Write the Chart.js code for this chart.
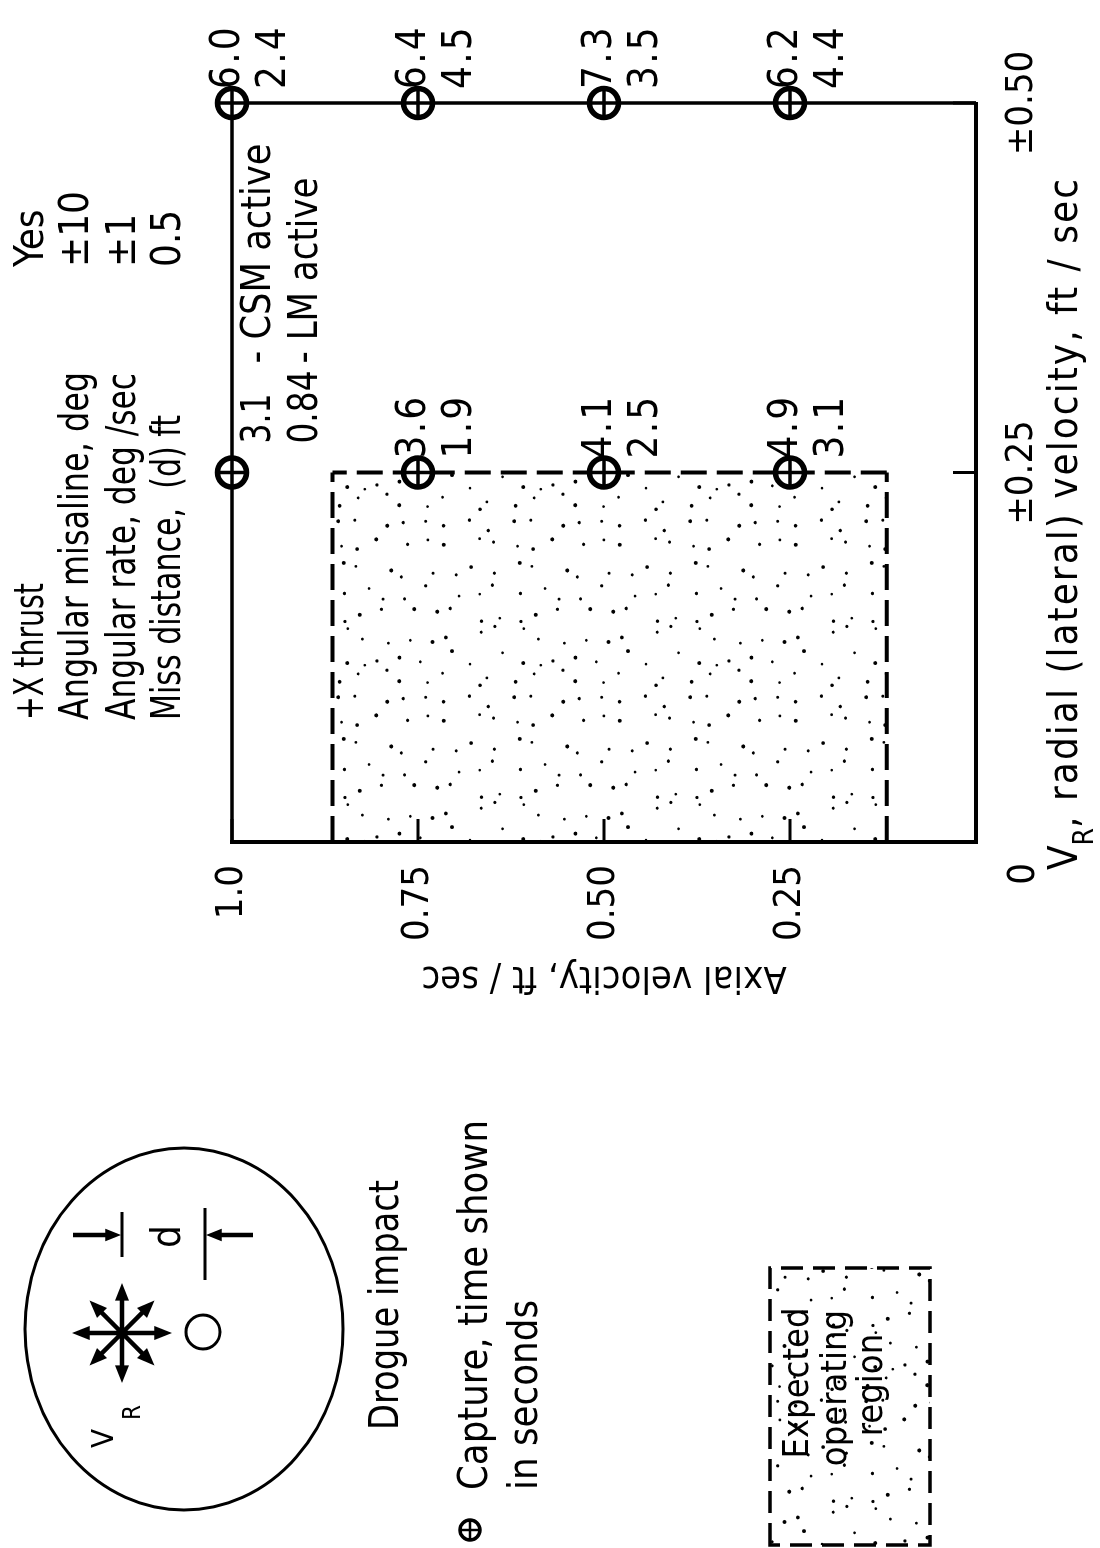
<!DOCTYPE html>
<html>
<head>
<meta charset="utf-8">
<title>Drogue capture</title>
<script src="https://cdn.jsdelivr.net/npm/chart.js@4.4.1/dist/chart.umd.min.js"></script>
<style>
    html, body { margin: 0; padding: 0; background: #fff; overflow: hidden; }
    /* the figure is drawn upright and turned a quarter turn, like the printed page */
    #page {
        position: absolute; left: 0; top: 0;
        width: 1548px; height: 1100px;
        transform-origin: 0 0;
        transform: translate(0, 1548px) rotate(-90deg);
    }
</style>
</head>
<body>
<div id="page"><canvas id="chart" width="1548" height="1100"></canvas></div>
<script>
const FONT = "'Liberation Sans Narrow', 'DejaVu Sans Condensed', sans-serif";

// capture points
const radialVel = [0.50, 0.50, 0.50, 0.50, 0.25, 0.25, 0.25, 0.25];
const axialVel  = [1.00, 0.75, 0.50, 0.25, 1.00, 0.75, 0.50, 0.25];
const timeCSM   = [6.0, 6.4, 7.3, 6.2, 3.1, 3.6, 4.1, 4.9];
const timeLM    = [2.4, 4.5, 3.5, 4.4, 0.84, 1.9, 2.5, 3.1];
const keyIndex = 4;
const activeLabels = ['- CSM active', '- LM active'];

// expected operating region
const opRadial = [0, 0.25];
const opAxial  = [0.12, 0.865];

const xTicks = [0, 0.25, 0.50];
const xTickLabels = ['', '±0.25', '±0.50'];
const yTicks = [0.25, 0.50, 0.75, 1.0];
const yTickLabels = ['0.25', '0.50', '0.75', '1.0'];

const conditionLabels = ['+X thrust', 'Angular misaline, deg', 'Angular rate, deg /sec', 'Miss distance,  (d) ft'];
const conditionValues = ['Yes', '±10', '±1', '0.5'];

function fmtTime(t) {
    return t < 1 ? t.toFixed(2) : t.toFixed(1);
}

// dot shading texture: one dot per cell, shifted inside the cell by an integer hash
function makeStipple(ctx) {
    const cell = 22, n = 8;
    const c = document.createElement('canvas');
    c.width = c.height = cell * n;
    const g = c.getContext('2d');
    g.fillStyle = '#000';
    const hash = k => {
        k = Math.imul(k ^ (k >>> 16), 0x45d9f3b);
        k = Math.imul(k ^ (k >>> 16), 0x45d9f3b);
        k ^= k >>> 16;
        return (k >>> 0) / 4294967296;
    };
    for (let i = 0; i < n; i++) {
        for (let j = 0; j < n; j++) {
            const id = (i * n + j) * 3 + 7;
            const px = (i + 0.1 + hash(id) * 0.8) * cell;
            const py = (j + 0.1 + hash(id + 1) * 0.8) * cell;
            g.beginPath();
            g.arc(px, py, 1.3 + hash(id + 2) * 0.7, 0, Math.PI * 2);
            g.fill();
        }
    }
    return ctx.createPattern(c, 'repeat');
}

// draw text; with "fit" the text is squeezed or spread to span that length
function drawText(ctx, s, x, y, o = {}) {
    ctx.save();
    ctx.font = `${o.size || 40}px ${FONT}`;
    ctx.textAlign = o.align || 'left';
    ctx.textBaseline = o.baseline || 'alphabetic';
    ctx.fillStyle = '#000';
    let sp = o.spacing || 0;
    let sx = 1;
    const natural = ctx.measureText(s).width;
    if (o.fit) {
        if (natural > o.fit) sx = o.fit / natural;
        else sp = (o.fit - natural) / s.length;
    }
    if ('letterSpacing' in ctx) ctx.letterSpacing = sp + 'px';
    ctx.translate(x, y);
    ctx.scale(sx, 1);
    ctx.fillText(s, 0, 0);
    const w = ctx.measureText(s).width * sx;
    ctx.restore();
    return w;
}

function captureMark(ctx, x, y, r, lw) {
    ctx.save();
    ctx.strokeStyle = '#000';
    ctx.fillStyle = '#fff';
    ctx.lineWidth = lw;
    ctx.beginPath();
    ctx.arc(x, y, r, 0, Math.PI * 2);
    ctx.fill();
    ctx.stroke();
    ctx.lineWidth = lw * 0.7;
    ctx.beginPath();
    ctx.moveTo(x - r, y); ctx.lineTo(x + r, y);
    ctx.moveTo(x, y - r); ctx.lineTo(x, y + r);
    ctx.stroke();
    ctx.restore();
}

function arrow(ctx, x1, y1, x2, y2, head) {
    const a = Math.atan2(y2 - y1, x2 - x1);
    ctx.beginPath();
    ctx.moveTo(x1, y1);
    ctx.lineTo(x2 - Math.cos(a) * head * 0.6, y2 - Math.sin(a) * head * 0.6);
    ctx.stroke();
    ctx.beginPath();
    ctx.moveTo(x2, y2);
    ctx.lineTo(x2 - Math.cos(a - 0.38) * head, y2 - Math.sin(a - 0.38) * head);
    ctx.lineTo(x2 - Math.cos(a + 0.38) * head, y2 - Math.sin(a + 0.38) * head);
    ctx.closePath();
    ctx.fill();
}

const framePlugin = {
    id: 'frame',
    beforeDatasetsDraw(chart) {
        const { ctx, chartArea: a, scales } = chart;
        ctx.save();
        ctx.strokeStyle = '#000';
        ctx.lineWidth = 3.5;
        ctx.beginPath();
        ctx.moveTo(a.left, a.top);
        ctx.lineTo(a.right, a.top);
        ctx.lineTo(a.right, a.bottom);
        ctx.stroke();
        // inward tick marks
        ctx.lineWidth = 3;
        ctx.beginPath();
        xTicks.forEach(v => {
            const px = scales.x.getPixelForValue(v);
            ctx.moveTo(px, a.bottom);
            ctx.lineTo(px, a.bottom - 23);
        });
        yTicks.forEach(v => {
            const py = scales.y.getPixelForValue(v);
            ctx.moveTo(a.left, py);
            ctx.lineTo(a.left + 23, py);
        });
        ctx.stroke();
        ctx.restore();
    },
    afterDraw(chart) {
        const { ctx, chartArea: a } = chart;
        ctx.save();
        ctx.strokeStyle = '#000';
        ctx.fillStyle = '#000';

        // capture times beside each point
        const meta = chart.getDatasetMeta(3);
        meta.data.forEach((pt, i) => {
            if (i === keyIndex) {
                drawText(ctx, fmtTime(timeCSM[i]), pt.x + 29, pt.y + 28, { baseline: 'middle', fit: 50 });
                drawText(ctx, fmtTime(timeLM[i]), pt.x + 29, pt.y + 75, { baseline: 'middle', fit: 73 });
                drawText(ctx, activeLabels[0], pt.x + 109, pt.y + 28, { baseline: 'middle', fit: 220 });
                drawText(ctx, activeLabels[1], pt.x + 109, pt.y + 75, { baseline: 'middle', fit: 186 });
            } else {
                drawText(ctx, fmtTime(timeCSM[i]), pt.x + 14, pt.y - 3, { baseline: 'middle', fit: 64 });
                drawText(ctx, fmtTime(timeLM[i]), pt.x + 14, pt.y + 43, { baseline: 'middle', fit: 64 });
            }
        });

        // origin label and x-axis title
        drawText(ctx, '0', a.left - 32, a.bottom + 58, { align: 'center', size: 38 });
        let u = 678;
        u += drawText(ctx, 'V', u, 1077);
        u += drawText(ctx, 'R', u, 1093, { size: 28 });
        drawText(ctx, ', radial (lateral) velocity, ft / sec', u, 1077, { fit: 1371 - u });

        // test conditions
        const condBase = [43, 88, 135, 180];
        const condFit = [137, 348, 347, 305];
        conditionLabels.forEach((s, i) => drawText(ctx, s, 828, condBase[i], { fit: condFit[i] }));
        conditionValues.forEach((s, i) => drawText(ctx, s, 1281, condBase[i]));

        // drogue sketch
        ctx.lineWidth = 3;
        ctx.beginPath();
        ctx.ellipse(219, 184, 181, 159, 0, 0, Math.PI * 2);
        ctx.stroke();
        ctx.lineWidth = 4.5;
        for (let k = 0; k < 8; k++) {
            const ang = k * Math.PI / 4;
            const len = k % 2 ? 46 : 50;
            arrow(ctx, 215, 122, 215 + Math.cos(ang) * len, 122 + Math.sin(ang) * len, 19);
        }
        ctx.beginPath();
        ctx.arc(215, 122, 6, 0, Math.PI * 2);
        ctx.fill();
        ctx.lineWidth = 3;
        ctx.beginPath();
        ctx.arc(216, 203, 17, 0, Math.PI * 2);
        ctx.stroke();
        ctx.beginPath();
        ctx.moveTo(291, 122); ctx.lineTo(336, 122);
        ctx.moveTo(268, 205); ctx.lineTo(340, 205);
        ctx.stroke();
        ctx.lineWidth = 4.5;
        arrow(ctx, 313, 73, 313, 121, 17);
        arrow(ctx, 313, 253, 313, 206, 17);
        drawText(ctx, 'd', 300, 180, { size: 40 });
        drawText(ctx, 'V', 100, 113, { size: 31 });
        drawText(ctx, 'R', 128, 140, { size: 24 });

        // legend
        drawText(ctx, 'Drogue impact', 118, 398, { fit: 250 });
        captureMark(ctx, 18, 470, 10, 3.5);
        drawText(ctx, 'Capture, time shown', 58, 487, { fit: 370 });
        drawText(ctx, 'in seconds', 58, 537, { fit: 190 });

        ctx.fillStyle = stipple;
        ctx.fillRect(3, 770, 277, 160);
        ctx.lineWidth = 3.5;
        ctx.setLineDash([22, 10]);
        ctx.strokeRect(3, 770, 277, 160);
        ctx.setLineDash([]);
        drawText(ctx, 'Expected', 165, 808, { size: 36, align: 'center' });
        drawText(ctx, 'operating', 160, 846, { size: 36, align: 'center' });
        drawText(ctx, 'region', 163, 882, { size: 36, align: 'center' });
        ctx.restore();
    }
};

const canvas = document.getElementById('chart');
const stipple = makeStipple(canvas.getContext('2d'));
const points = radialVel.map((x, i) => ({ x, y: axialVel[i] }));
const dashed = {
    showLine: true, pointRadius: 0, borderColor: '#000', borderWidth: 4,
    borderDash: [26, 10], fill: false, order: 2
};

new Chart(canvas, {
    type: 'scatter',
    data: {
        datasets: [
            { ...dashed, data: opRadial.map(x => ({ x, y: opAxial[1] })), fill: '+1', backgroundColor: stipple },
            { ...dashed, data: opRadial.map(x => ({ x, y: opAxial[0] })) },
            { ...dashed, data: opAxial.map(y => ({ x: opRadial[1], y })) },
            {
                data: points, clip: false, order: 1, pointStyle: 'circle', pointRadius: 14.5,
                borderWidth: 5.5, borderColor: '#000', backgroundColor: '#fff'
            },
            {
                data: points, clip: false, order: 0, pointStyle: 'cross', pointRadius: 14.5,
                borderWidth: 3.5, borderColor: '#000'
            }
        ]
    },
    options: {
        responsive: false,
        animation: false,
        devicePixelRatio: 1,
        events: [],
        layout: { padding: { left: 506, right: 103, top: 232, bottom: 0 } },
        plugins: { legend: { display: false }, tooltip: { enabled: false } },
        scales: {
            x: {
                type: 'linear', position: 'bottom', min: 0, max: 0.5,
                afterFit: s => { s.height = 124; },
                afterBuildTicks: s => { s.ticks = xTicks.map(value => ({ value })); },
                grid: { display: false, drawTicks: false },
                border: { display: true, color: '#000', width: 4 },
                ticks: {
                    color: '#000', font: { family: FONT, size: 38 }, padding: 23,
                    maxRotation: 0, autoSkip: false,
                    callback: (v, i) => xTickLabels[i]
                }
            },
            y: {
                type: 'linear', position: 'left', min: 0, max: 1.0,
                afterFit: s => { s.width = 200; },
                afterBuildTicks: s => { s.ticks = yTicks.map(value => ({ value })); },
                grid: { display: false, drawTicks: false },
                border: { display: true, color: '#000', width: 4 },
                ticks: {
                    color: '#000', font: { family: FONT, size: 38 }, padding: 23,
                    autoSkip: false,
                    callback: (v, i) => yTickLabels[i]
                },
                title: {
                    display: true, text: 'Axial velocity, ft / sec', color: '#000',
                    font: { family: FONT, size: 38 }, padding: { top: 42, bottom: 0 }
                }
            }
        }
    },
    plugins: [framePlugin]
});
</script>
</body>
</html>
